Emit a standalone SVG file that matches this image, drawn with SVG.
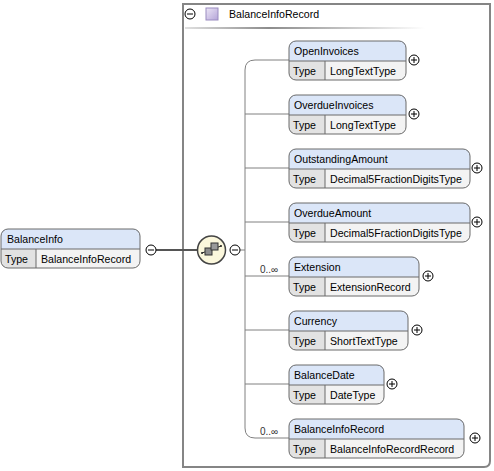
<svg xmlns="http://www.w3.org/2000/svg" width="494" height="471" viewBox="0 0 494 471">
<defs>
<style>
text{font-family:"Liberation Sans",Arial,sans-serif;font-size:10.6px;fill:#000}
.hd{fill:#dbe6f8}
.tl{fill:#e2e2e2}
.tv{fill:#f3f3f3}
.ol{fill:none;stroke:#6a6a6a;stroke-width:1}
.dv{stroke:#6a6a6a;stroke-width:1;fill:none}
.pm{fill:#fff;stroke:#000;stroke-width:1}
.pms{stroke:#000;stroke-width:1}
.con{fill:none;stroke:#808080;stroke-width:1}
.occ{font-size:10px;fill:#333}
</style>
<linearGradient id="hl" x1="0" x2="1" y1="0" y2="0">
<stop offset="0" stop-color="#e0e0e0"/>
<stop offset="0.35" stop-color="#8c8c8c"/>
<stop offset="1" stop-color="#ffffff"/>
</linearGradient>
<linearGradient id="sq" x1="0" x2="1" y1="0" y2="1">
<stop offset="0" stop-color="#ece6f6"/>
<stop offset="1" stop-color="#b4a4d8"/>
</linearGradient>
</defs>

<!-- outer complex type box -->
<g id="BalanceInfoRecordType">
<path d="M183,4 H490 V461 Q490,467 484,467 H183 Z" fill="#fff" stroke="#858585" stroke-width="2"/>
<circle class="pm" cx="190" cy="14" r="5"/>
<line class="pms" x1="187" y1="14" x2="193" y2="14"/>
<rect x="206" y="8" width="12" height="12" fill="url(#sq)" stroke="#9a8cc0" stroke-width="1"/>
<text x="229" y="18">BalanceInfoRecord</text>
<rect x="185" y="27" width="240" height="2" fill="url(#hl)"/>
</g>

<!-- connectors -->
<g id="connectors">
<line x1="156" y1="250" x2="198" y2="250" stroke="#555" stroke-width="2"/>
<line class="con" x1="240" y1="250" x2="245" y2="250"/>
<path class="con" d="M289,60 H255 Q245,60 245,70 V428 Q245,438 255,438 H289"/>
<line class="con" x1="245" y1="114" x2="289" y2="114"/>
<line class="con" x1="245" y1="168" x2="289" y2="168"/>
<line class="con" x1="245" y1="222" x2="289" y2="222"/>
<line class="con" x1="245" y1="276" x2="289" y2="276"/>
<line class="con" x1="245" y1="330" x2="289" y2="330"/>
<line class="con" x1="245" y1="384" x2="289" y2="384"/>
<text class="occ" x="260" y="273">0..∞</text>
<text class="occ" x="260" y="435">0..∞</text>
</g>

<!-- root element -->
<g id="BalanceInfo" transform="translate(1,229)">
<path class="hd" d="M0,20 V7 Q0,0 7,0 H132 Q139,0 139,7 V20 Z"/>
<path class="tl" d="M0,20 H35 V39 H7 Q0,39 0,32 Z"/>
<path class="tv" d="M35,20 H139 V32 Q139,39 132,39 H35 Z"/>
<rect class="ol" x="0" y="0" width="139" height="39" rx="7"/>
<line class="dv" x1="0" y1="20" x2="139" y2="20"/>
<line class="dv" x1="35" y1="20" x2="35" y2="39"/>
<text x="6" y="14">BalanceInfo</text>
<text x="4" y="34">Type</text>
<text x="40" y="34">BalanceInfoRecord</text>
<circle class="pm" cx="150" cy="21" r="5"/>
<line class="pms" x1="147" y1="21" x2="153" y2="21"/>
</g>

<!-- sequence compositor -->
<g id="sequence">
<circle cx="211.5" cy="250" r="14" fill="#fbf7dc" stroke="#444" stroke-width="1.5"/>
<line x1="202" y1="253" x2="221" y2="246" stroke="#222" stroke-width="1"/>
<rect x="205" y="248" width="7" height="7" fill="#8c8c8c" stroke="#333" stroke-width="1"/>
<rect x="211" y="243" width="7" height="7" fill="#9a9a9a" stroke="#333" stroke-width="1"/>
<circle cx="202" cy="253" r="1" fill="#222"/>
<circle cx="221" cy="246" r="1" fill="#222"/>
<circle class="pm" cx="235" cy="250" r="5"/>
<line class="pms" x1="232" y1="250" x2="238" y2="250"/>
</g>

<g id="OpenInvoices" transform="translate(289,41)">
<path class="hd" d="M0,20 V7 Q0,0 7,0 H110 Q117,0 117,7 V20 Z"/>
<path class="tl" d="M0,20 H36 V39 H7 Q0,39 0,32 Z"/>
<path class="tv" d="M36,20 H117 V32 Q117,39 110,39 H36 Z"/>
<rect class="ol" x="0" y="0" width="117" height="39" rx="7"/>
<line class="dv" x1="0" y1="20" x2="117" y2="20"/>
<line class="dv" x1="36" y1="20" x2="36" y2="39"/>
<text x="5" y="14">OpenInvoices</text>
<text x="4" y="34">Type</text>
<text x="41" y="34">LongTextType</text>
<circle class="pm" cx="125" cy="19" r="5"/>
<line class="pms" x1="122" y1="19" x2="128" y2="19"/><line class="pms" x1="125" y1="16" x2="125" y2="22"/>
</g>

<g id="OverdueInvoices" transform="translate(289,95)">
<path class="hd" d="M0,20 V7 Q0,0 7,0 H110 Q117,0 117,7 V20 Z"/>
<path class="tl" d="M0,20 H36 V39 H7 Q0,39 0,32 Z"/>
<path class="tv" d="M36,20 H117 V32 Q117,39 110,39 H36 Z"/>
<rect class="ol" x="0" y="0" width="117" height="39" rx="7"/>
<line class="dv" x1="0" y1="20" x2="117" y2="20"/>
<line class="dv" x1="36" y1="20" x2="36" y2="39"/>
<text x="5" y="14">OverdueInvoices</text>
<text x="4" y="34">Type</text>
<text x="41" y="34">LongTextType</text>
<circle class="pm" cx="125" cy="19" r="5"/>
<line class="pms" x1="122" y1="19" x2="128" y2="19"/><line class="pms" x1="125" y1="16" x2="125" y2="22"/>
</g>

<g id="OutstandingAmount" transform="translate(289,149)">
<path class="hd" d="M0,20 V7 Q0,0 7,0 H174 Q181,0 181,7 V20 Z"/>
<path class="tl" d="M0,20 H36 V39 H7 Q0,39 0,32 Z"/>
<path class="tv" d="M36,20 H181 V32 Q181,39 174,39 H36 Z"/>
<rect class="ol" x="0" y="0" width="181" height="39" rx="7"/>
<line class="dv" x1="0" y1="20" x2="181" y2="20"/>
<line class="dv" x1="36" y1="20" x2="36" y2="39"/>
<text x="5" y="14">OutstandingAmount</text>
<text x="4" y="34">Type</text>
<text x="41" y="34">Decimal5FractionDigitsType</text>
<circle class="pm" cx="188" cy="19" r="5"/>
<line class="pms" x1="185" y1="19" x2="191" y2="19"/><line class="pms" x1="188" y1="16" x2="188" y2="22"/>
</g>

<g id="OverdueAmount" transform="translate(289,203)">
<path class="hd" d="M0,20 V7 Q0,0 7,0 H174 Q181,0 181,7 V20 Z"/>
<path class="tl" d="M0,20 H36 V39 H7 Q0,39 0,32 Z"/>
<path class="tv" d="M36,20 H181 V32 Q181,39 174,39 H36 Z"/>
<rect class="ol" x="0" y="0" width="181" height="39" rx="7"/>
<line class="dv" x1="0" y1="20" x2="181" y2="20"/>
<line class="dv" x1="36" y1="20" x2="36" y2="39"/>
<text x="5" y="14">OverdueAmount</text>
<text x="4" y="34">Type</text>
<text x="41" y="34">Decimal5FractionDigitsType</text>
<circle class="pm" cx="188" cy="19" r="5"/>
<line class="pms" x1="185" y1="19" x2="191" y2="19"/><line class="pms" x1="188" y1="16" x2="188" y2="22"/>
</g>

<g id="Extension" transform="translate(289,257)">
<path class="hd" d="M0,20 V7 Q0,0 7,0 H123 Q130,0 130,7 V20 Z"/>
<path class="tl" d="M0,20 H36 V39 H7 Q0,39 0,32 Z"/>
<path class="tv" d="M36,20 H130 V32 Q130,39 123,39 H36 Z"/>
<rect class="ol" x="0" y="0" width="130" height="39" rx="7"/>
<line class="dv" x1="0" y1="20" x2="130" y2="20"/>
<line class="dv" x1="36" y1="20" x2="36" y2="39"/>
<text x="5" y="14">Extension</text>
<text x="4" y="34">Type</text>
<text x="41" y="34">ExtensionRecord</text>
<circle class="pm" cx="139" cy="19" r="5"/>
<line class="pms" x1="136" y1="19" x2="142" y2="19"/><line class="pms" x1="139" y1="16" x2="139" y2="22"/>
</g>

<g id="Currency" transform="translate(289,311)">
<path class="hd" d="M0,20 V7 Q0,0 7,0 H112 Q119,0 119,7 V20 Z"/>
<path class="tl" d="M0,20 H36 V39 H7 Q0,39 0,32 Z"/>
<path class="tv" d="M36,20 H119 V32 Q119,39 112,39 H36 Z"/>
<rect class="ol" x="0" y="0" width="119" height="39" rx="7"/>
<line class="dv" x1="0" y1="20" x2="119" y2="20"/>
<line class="dv" x1="36" y1="20" x2="36" y2="39"/>
<text x="5" y="14">Currency</text>
<text x="4" y="34">Type</text>
<text x="41" y="34">ShortTextType</text>
<circle class="pm" cx="128" cy="19" r="5"/>
<line class="pms" x1="125" y1="19" x2="131" y2="19"/><line class="pms" x1="128" y1="16" x2="128" y2="22"/>
</g>

<g id="BalanceDate" transform="translate(289,365)">
<path class="hd" d="M0,20 V7 Q0,0 7,0 H88 Q95,0 95,7 V20 Z"/>
<path class="tl" d="M0,20 H36 V39 H7 Q0,39 0,32 Z"/>
<path class="tv" d="M36,20 H95 V32 Q95,39 88,39 H36 Z"/>
<rect class="ol" x="0" y="0" width="95" height="39" rx="7"/>
<line class="dv" x1="0" y1="20" x2="95" y2="20"/>
<line class="dv" x1="36" y1="20" x2="36" y2="39"/>
<text x="5" y="14">BalanceDate</text>
<text x="4" y="34">Type</text>
<text x="41" y="34">DateType</text>
<circle class="pm" cx="103" cy="19" r="5"/>
<line class="pms" x1="100" y1="19" x2="106" y2="19"/><line class="pms" x1="103" y1="16" x2="103" y2="22"/>
</g>

<g id="BalanceInfoRecordElement" transform="translate(289,419)">
<path class="hd" d="M0,20 V7 Q0,0 7,0 H168 Q175,0 175,7 V20 Z"/>
<path class="tl" d="M0,20 H36 V39 H7 Q0,39 0,32 Z"/>
<path class="tv" d="M36,20 H175 V32 Q175,39 168,39 H36 Z"/>
<rect class="ol" x="0" y="0" width="175" height="39" rx="7"/>
<line class="dv" x1="0" y1="20" x2="175" y2="20"/>
<line class="dv" x1="36" y1="20" x2="36" y2="39"/>
<text x="5" y="14">BalanceInfoRecord</text>
<text x="4" y="34">Type</text>
<text x="41" y="34">BalanceInfoRecordRecord</text>
<circle class="pm" cx="186" cy="19" r="5"/>
<line class="pms" x1="183" y1="19" x2="189" y2="19"/><line class="pms" x1="186" y1="16" x2="186" y2="22"/>
</g>
</svg>
